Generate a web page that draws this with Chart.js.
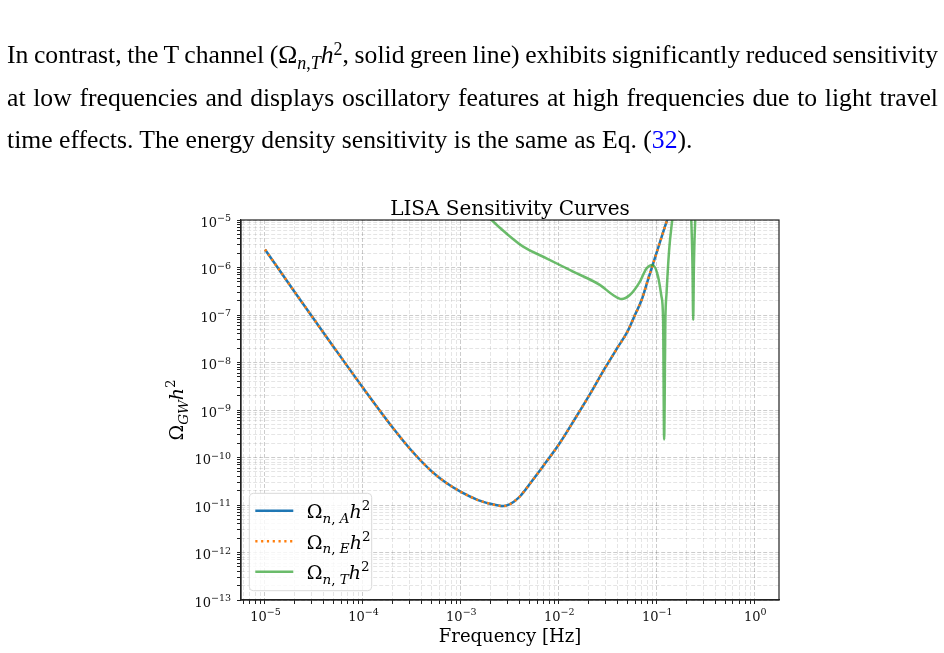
<!DOCTYPE html>
<html>
<head>
<meta charset="utf-8">
<script src="https://cdn.jsdelivr.net/npm/chart.js@4.4.0/dist/chart.umd.min.js"></script>
<style>
  html, body { margin: 0; padding: 0; background: #fff; overflow: hidden; }
  body { width: 944px; height: 653px; position: relative; }
  #chart { position: absolute; left: 0; top: 0; }
  #para { position: absolute; left: 7px; top: 34px; width: 931px;
          font-family: "Liberation Serif", serif; font-size: 23px; color: #000; }
  #para .ln { height: 42.5px; line-height: 42.5px; white-space: nowrap; }
  #para sub, #para sup { line-height: 0; font-size: 70%; }
  #para sup { vertical-align: 0.45em; }
  #para .ref { color: #0000ff; }
</style>
</head>
<body>
<canvas id="chart" width="944" height="653"></canvas>
<div id="para">
  <div class="ln j"><span>In contrast, the T channel (Ω<sub><i>n</i>,<i>T</i></sub><i>h</i><sup>2</sup>, solid green line) exhibits significantly reduced sensitivity</span></div>
  <div class="ln j"><span>at low frequencies and displays oscillatory features at high frequencies due to light travel</span></div>
  <div class="ln" id="lastLine"><span>time effects. The energy density sensitivity is the same as Eq. (<span class="ref">32</span>).</span></div>
</div>
<script>
// frequencies [Hz] and sensitivities
const freqAE = [1e-5, 2e-5, 5e-5, 1e-4, 2e-4, 3e-4, 5e-4, 7e-4, 1e-3, 1.5e-3, 2e-3, 2.5e-3, 2.75e-3,
  3e-3, 3.5e-3, 4e-3, 4.5e-3, 5e-3, 6e-3, 7e-3, 1e-2, 1.5e-2, 2e-2, 3e-2, 4e-2, 5e-2, 6e-2, 7e-2,
  8e-2, 0.1, 0.12, 0.15];
const omegaA = [2.4e-6, 3.1e-7, 2.15e-8, 2.94e-9, 4.33e-10, 1.55e-10, 5.18e-11, 2.98e-11, 1.89e-11,
  1.27e-11, 1.06e-11, 9.6e-12, 9.5e-12, 9.9e-12, 1.19e-11, 1.51e-11, 2.02e-11, 2.7e-11, 4.43e-11,
  6.82e-11, 1.88e-10, 7.13e-10, 1.89e-9, 7.96e-9, 2.1e-8, 4.4e-8, 1.01e-7, 2.07e-7, 4.95e-7, 2.11e-6,
  6.8e-6, 2.8e-5];
const omegaE = [2.4e-6, 3.1e-7, 2.15e-8, 2.94e-9, 4.33e-10, 1.55e-10, 5.18e-11, 2.98e-11, 1.89e-11,
  1.27e-11, 1.06e-11, 9.6e-12, 9.5e-12, 9.9e-12, 1.19e-11, 1.51e-11, 2.02e-11, 2.7e-11, 4.43e-11,
  6.82e-11, 1.88e-10, 7.13e-10, 1.89e-9, 7.96e-9, 2.1e-8, 4.4e-8, 1.01e-7, 2.07e-7, 4.95e-7, 2.11e-6,
  6.8e-6, 2.8e-5];
const freqT = [1.66e-3, 2.06e-3, 2.92e-3, 4.33e-3, 7.48e-3, 1.40e-2, 2.62e-2, 3.58e-2, 4.37e-2, 5.30e-2,
  6.71e-2, 7.85e-2, 9.06e-2, 0.103, 0.1117, 0.1161, 0.1189, 0.1225, 0.1259, 0.1337, 0.1432, 0.158,
  0.200, 0.225, 0.2317, 0.2355, 0.2393, 0.2472, 0.275];
const omegaT = [1.6e-5, 1.0e-5, 5.2e-6, 2.75e-6, 1.56e-6, 8.2e-7, 4.3e-7, 2.63e-7, 2.17e-7, 2.63e-7,
  5.0e-7, 9.5e-7, 1.13e-6, 6.5e-7, 2.45e-7, 7.9e-8, 2.4e-10, 7.9e-8, 2.9e-7, 2.3e-6, 9.2e-6, 5e-5,
  1e-4, 1e-5, 1e-6, 7.9e-8, 1e-6, 1e-5, 1e-4];

// axis ticks
const xDecades = [1e-5, 1e-4, 1e-3, 1e-2, 1e-1, 1e0];
const yDecades = [1e-13, 1e-12, 1e-11, 1e-10, 1e-9, 1e-8, 1e-7, 1e-6, 1e-5];
const xRange = [5.69e-6, 1.77];
const yRange = [1e-13, 1e-5];

const SERIF = '"DejaVu Serif", serif';

function isDecade(v) {
  const l = Math.log10(v);
  return Math.abs(l - Math.round(l)) < 1e-6;
}
function expText(v) {
  const e = Math.round(Math.log10(v));
  return e < 0 ? '\u2212' + Math.abs(e) : String(e);
}
function withMinors(decades, lo, hi) {
  const out = [];
  for (const d of [decades[0] / 10, ...decades]) {
    for (let k = 1; k < 10; k++) {
      const v = d * k;
      if (v >= lo * 0.999999 && v <= hi * 1.000001) out.push(v);
    }
  }
  return out;
}
const xTicks = withMinors(xDecades, xRange[0], xRange[1]);
const yTicks = withMinors(yDecades, yRange[0], yRange[1]);

// paragraph layout (justify the first two lines)
(function () {
  const last = document.querySelector('#lastLine > span');
  const para = document.getElementById('para');
  const size = 23 * 686 / last.getBoundingClientRect().width;
  para.style.fontSize = size + 'px';
  document.querySelectorAll('#para .j > span').forEach((s) => {
    const w = s.getBoundingClientRect().width;
    const n = (s.textContent.match(/ /g) || []).length;
    s.style.wordSpacing = ((931 - w) / n) + 'px';
  });
})();

function mathWidth(ctx, parts) {
  let w = 0;
  for (const p of parts) {
    ctx.font = (p.it ? 'italic ' : '') + p.size + 'px ' + SERIF;
    w += ctx.measureText(p.t).width;
  }
  return w;
}
function drawMath(ctx, parts, x, y) {
  let cx = x;
  for (const p of parts) {
    ctx.font = (p.it ? 'italic ' : '') + p.size + 'px ' + SERIF;
    ctx.fillText(p.t, cx, y + (p.dy || 0));
    cx += ctx.measureText(p.t).width;
  }
}
function omegaLabel(ch) {
  return [
    { t: '\u03A9', size: 19 },
    { t: 'n', size: 13.5, it: true, dy: 4.5 },
    { t: ', ', size: 13.5, dy: 4.5 },
    { t: ch, size: 13.5, it: true, dy: 4.5 },
    { t: 'h', size: 19, it: true },
    { t: '2', size: 13.5, dy: -8 },
  ];
}
function powParts(v) {
  return [{ t: '10', size: 13 }, { t: expText(v), size: 9.5, dy: -5.5 }];
}

const legendItems = [
  { label: 'A', color: '#1f77b4', dash: [] },
  { label: 'E', color: '#ff7f0e', dash: [2.2, 3.6] },
  { label: 'T', color: 'rgba(44,160,44,0.7)', dash: [] },
];

const decor = {
  id: 'decor',
  afterDraw(chart) {
    const { ctx, chartArea: a, scales } = chart;
    ctx.save();
    ctx.fillStyle = '#111';
    ctx.textAlign = 'left';
    ctx.textBaseline = 'alphabetic';
    // tick labels
    xDecades.forEach((v) => {
      const px = scales.x.getPixelForValue(v);
      const parts = powParts(v);
      drawMath(ctx, parts, px - mathWidth(ctx, parts) / 2 + 0.5, a.bottom + 20.5);
    });
    yDecades.forEach((v) => {
      const py = scales.y.getPixelForValue(v);
      const parts = powParts(v);
      drawMath(ctx, parts, a.left - 10 - mathWidth(ctx, parts), py + 6.5);
    });
    ctx.restore();
  },
  afterDatasetsDraw(chart) {
    const { ctx, chartArea: a } = chart;
    ctx.save();
    // axes frame
    ctx.strokeStyle = '#222';
    ctx.lineWidth = 1.2;
    ctx.strokeRect(a.left, a.top, a.right - a.left, a.bottom - a.top);

    // title
    ctx.fillStyle = '#000';
    ctx.font = '20px ' + SERIF;
    ctx.textAlign = 'center';
    ctx.textBaseline = 'alphabetic';
    ctx.fillText('LISA Sensitivity Curves', (a.left + a.right) / 2, a.top - 5);

    // legend
    ctx.textAlign = 'left';
    const lx = a.left + 8.3, ly = a.bottom - 106.7, lw = 122.4, lh = 97.4;
    ctx.beginPath();
    ctx.roundRect(lx, ly, lw, lh, 4);
    ctx.fillStyle = 'rgba(255,255,255,0.8)';
    ctx.fill();
    ctx.strokeStyle = '#d9d9d9';
    ctx.lineWidth = 1;
    ctx.stroke();
    legendItems.forEach((it, i) => {
      const y = ly + 17.4 + i * 30.5;
      ctx.beginPath();
      ctx.setLineDash(it.dash);
      ctx.strokeStyle = it.color;
      ctx.lineWidth = 2.5;
      ctx.lineCap = 'butt';
      ctx.moveTo(lx + 6, y);
      ctx.lineTo(lx + 44, y);
      ctx.stroke();
      ctx.setLineDash([]);
      ctx.fillStyle = '#000';
      drawMath(ctx, omegaLabel(it.label), lx + 57.5, y + 7.5);
    });

    // y axis label
    const yl = [
      { t: '\u03A9', size: 19 },
      { t: 'GW', size: 13.5, it: true, dy: 4.5 },
      { t: 'h', size: 19, it: true },
      { t: '2', size: 13.5, dy: -8 },
    ];
    const w = mathWidth(ctx, yl);
    ctx.translate(183, (a.top + a.bottom) / 2);
    ctx.rotate(-Math.PI / 2);
    drawMath(ctx, yl, -w / 2, 0);
    ctx.restore();
  },
};

const toXY = (xs, ys) => xs.map((x, i) => ({ x: x, y: ys[i] }));

function gridColor(c) {
  return c.tick && isDecade(c.tick.value) ? 'rgba(0,0,0,0.2)' : 'rgba(0,0,0,0.1)';
}

new Chart(document.getElementById('chart').getContext('2d'), {
  type: 'line',
  data: {
    datasets: [
      { label: 'A', data: toXY(freqAE, omegaA), borderColor: '#1f77b4', borderWidth: 2.5, order: 3 },
      { label: 'E', data: toXY(freqAE, omegaE), borderColor: '#ff7f0e', borderWidth: 2.5,
        borderDash: [2.2, 3.6], borderCapStyle: 'butt', order: 2 },
      { label: 'T', data: toXY(freqT, omegaT), borderColor: 'rgba(44,160,44,0.7)', borderWidth: 2.5,
        order: 1 },
    ],
  },
  options: {
    responsive: false,
    animation: false,
    events: [],
    layout: { padding: { left: 181, right: 165, top: 220, bottom: 0 } },
    elements: {
      point: { radius: 0 },
      line: { cubicInterpolationMode: 'monotone', capBezierPoints: false, fill: false },
    },
    plugins: { legend: { display: false }, title: { display: false }, tooltip: { enabled: false } },
    scales: {
      x: {
        type: 'logarithmic',
        min: xRange[0],
        max: xRange[1],
        afterBuildTicks: (s) => { s.ticks = xTicks.map((v) => ({ value: v })); },
        afterFit: (s) => { s.height = 53; },
        ticks: { display: false, autoSkip: false },
        grid: { color: gridColor, tickColor: '#222', tickLength: 4 },
        border: { display: true, color: '#222', width: 1.2, dash: [4, 2] },
        title: { display: true, text: 'Frequency [Hz]', color: '#000',
          font: { family: SERIF, size: 18 }, padding: { top: 0, bottom: 5 } },
      },
      y: {
        type: 'logarithmic',
        min: yRange[0],
        max: yRange[1],
        afterBuildTicks: (s) => { s.ticks = yTicks.map((v) => ({ value: v })); },
        afterFit: (s) => { s.width = 60; },
        ticks: { display: false, autoSkip: false },
        grid: { color: gridColor, tickColor: '#222', tickLength: 4 },
        border: { display: true, color: '#222', width: 1.2, dash: [4, 2] },
      },
    },
  },
  plugins: [decor],
});
</script>
</body>
</html>
